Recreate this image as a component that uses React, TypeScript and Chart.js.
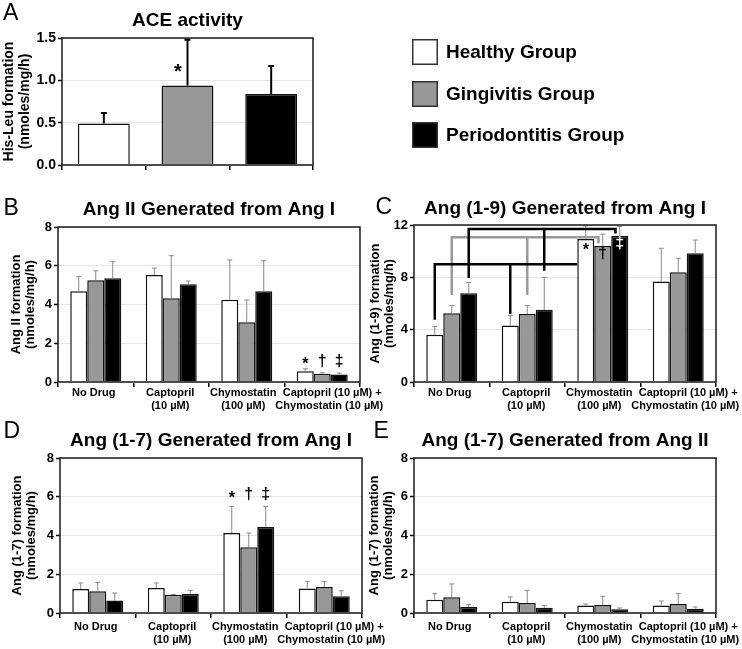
import { useEffect, useRef } from 'react';
import { Chart, registerables } from 'chart.js';

Chart.register(...registerables);

const FONT = '"Liberation Sans", Arial, Helvetica, sans-serif';

// ---------- shared ----------
const groupNames = ['Healthy Group', 'Gingivitis Group', 'Periodontitis Group'];
const groupFill = ['#ffffff', '#989898', '#000000'];
const bracketColor = ['#000000', '#9a9a9a', '#000000'];
const drugLabels = [
  ['No Drug'],
  ['Captopril', '(10 µM)'],
  ['Chymostatin', '(100 µM)'],
  ['Captopril (10 µM) +', 'Chymostatin (10 µM)'],
];

// ---------- A: ACE activity ----------
const aceLabels = ['', '', ''];
const aceMean = [0.49, 0.94, 0.84];
const aceSD = [0.125, 0.54, 0.33];
const aceTicks = [0, 0.5, 1.0, 1.5];
const aceMarks = [{ series: 0, cat: 1, value: 1.09, text: '*' }];

// ---------- B: Ang II generated from Ang I ----------
const angIIHealthy = [4.68, 5.52, 4.25, 0.55];
const angIIHealthySD = [0.77, 0.36, 2.05, 0.13];
const angIIGingivitis = [5.25, 4.32, 3.08, 0.43];
const angIIGingivitisSD = [0.49, 2.2, 1.15, 0.05];
const angIIPeriodontitis = [5.35, 5.04, 4.68, 0.39];
const angIIPeriodontitisSD = [0.86, 0.17, 1.58, 0.07];
const angIITicks = [0, 2, 4, 6, 8];
const angIIMarks = [
  { series: 0, cat: 3, value: 0.88, text: '*' },
  { series: 1, cat: 3, value: 1.05, text: '†' },
  { series: 2, cat: 3, value: 1.05, text: '‡' },
];

// ---------- C: Ang (1-9) generated from Ang I ----------
const ang19Healthy = [3.61, 4.32, 10.93, 7.68];
const ang19HealthySD = [0.63, 0.76, 1.0, 2.54];
const ang19Gingivitis = [5.26, 5.19, 10.4, 8.39];
const ang19GingivitisSD = [0.58, 0.65, 0.9, 1.07];
const ang19Periodontitis = [6.79, 5.52, 11.15, 9.84];
const ang19PeriodontitisSD = [0.81, 2.48, 0.73, 1.01];
const ang19Ticks = [0, 4, 8, 12];
const ang19Marks = [
  { series: 0, cat: 2, value: 10.05, text: '*' },
  { series: 1, cat: 2, value: 9.79, text: '†' },
  { series: 2, cat: 2, value: 10.59, text: '‡' },
];
// significance brackets: level, drop-ends at No Drug & Captopril, end at Chymostatin
const ang19Brackets = [
  { series: 1, level: 11.06, drops: [6.65, 6.65], end: 10.6 },
  { series: 0, level: 9.0, drops: [4.75, 5.2], end: null },
  { series: 2, level: 11.7, drops: [7.95, 8.5], end: 11.35 },
];

// ---------- D: Ang (1-7) generated from Ang I ----------
const ang17IHealthy = [1.24, 1.29, 4.13, 1.27];
const ang17IHealthySD = [0.31, 0.26, 1.37, 0.36];
const ang17IGingivitis = [1.12, 0.94, 3.4, 1.34];
const ang17IGingivitisSD = [0.46, 0.02, 0.73, 0.29];
const ang17IPeriodontitis = [0.65, 0.98, 4.44, 0.86];
const ang17IPeriodontitisSD = [0.38, 0.19, 1.06, 0.29];
const ang17ITicks = [0, 2, 4, 6, 8];
const ang17IMarks = [
  { series: 0, cat: 2, value: 5.92, text: '*' },
  { series: 1, cat: 2, value: 6.12, text: '†' },
  { series: 2, cat: 2, value: 6.12, text: '‡' },
];

// ---------- E: Ang (1-7) generated from Ang II ----------
const ang17IIHealthy = [0.69, 0.58, 0.39, 0.39];
const ang17IIHealthySD = [0.31, 0.25, 0.07, 0.23];
const ang17IIGingivitis = [0.81, 0.52, 0.41, 0.46];
const ang17IIGingivitisSD = [0.69, 0.65, 0.45, 0.54];
const ang17IIPeriodontitis = [0.31, 0.27, 0.19, 0.22];
const ang17IIPeriodontitisSD = [0.12, 0.11, 0.07, 0.09];
const ang17IITicks = [0, 2, 4, 6, 8];

type Mark = { series: number; cat: number; value: number; text: string };
type Bracket = { series: number; level: number; drops: number[]; end: number | null };

type PanelCfg = {
  letter: string;
  letterPos: [number, number];
  title: string;
  titleMid: number;
  yTitle: string[];
  yTitleCenter: number;
  yTitleSize: number;
  yTitleLH: number;
  tickSize: number;
  box: { x: number; y: number; w: number; h: number };
  area: { l: number; t: number; r: number; b: number };
  labels: any[];
  means: number[][];
  sds: number[][];
  fills: any[];
  ticks: number[];
  decimals: number;
  catPct: number;
  errColor: string;
  errWidth: number;
  errCap: number;
  marks: Mark[];
  markSize: number;
  markDx: number;
  brackets: Bracket[];
  xLabelTop: number;
  legend: boolean;
};

// horizontal nudges (px) of each category-label line (Excel-style placement)
const labelNudge = [[-2], [-1, -1], [-3.5, -3.5], [10, 7]];

const groupedBase = {
  labels: drugLabels,
  fills: groupFill,
  decimals: 0,
  catPct: 0.675,
  errColor: '#8a8a8a',
  errWidth: 1,
  errCap: 2.5,
  markSize: 16,
  markDx: 0,
  yTitleSize: 13,
  yTitleLH: 14,
  tickSize: 13,
  legend: false,
};

const panels: PanelCfg[] = [
  {
    letter: 'A',
    letterPos: [3, 19.5],
    title: 'ACE activity',
    titleMid: 21,
    yTitle: ['His-Leu formation', '(nmoles/mg/h)'],
    yTitleCenter: 9.5,
    yTitleSize: 14,
    yTitleLH: 16,
    tickSize: 14,
    box: { x: 0, y: 0, w: 742, h: 185 },
    area: { l: 62, t: 38, r: 313, b: 165 },
    labels: aceLabels,
    means: [aceMean],
    sds: [aceSD],
    fills: [groupFill],
    ticks: aceTicks,
    decimals: 1,
    catPct: 0.62,
    errColor: '#000000',
    errWidth: 2,
    errCap: 3,
    marks: aceMarks,
    markSize: 20,
    markDx: -9.5,
    brackets: [],
    xLabelTop: 10,
    legend: true,
  },
  {
    ...groupedBase,
    letter: 'B',
    letterPos: [3.5, 215],
    title: 'Ang II Generated from Ang I',
    titleMid: 210,
    yTitle: ['Ang II formation', '(nmoles/mg/h)'],
    yTitleCenter: 16.5,
    box: { x: 0, y: 185, w: 392, h: 230 },
    area: { l: 58, t: 227, r: 360, b: 382 },
    means: [angIIHealthy, angIIGingivitis, angIIPeriodontitis],
    sds: [angIIHealthySD, angIIGingivitisSD, angIIPeriodontitisSD],
    ticks: angIITicks,
    marks: angIIMarks,
    brackets: [],
    xLabelTop: 10.5,
  },
  {
    ...groupedBase,
    letter: 'C',
    letterPos: [375.5, 213.5],
    title: 'Ang (1-9) Generated from Ang I',
    titleMid: 209,
    yTitle: ['Ang (1-9) formation', '(nmoles/mg/h)'],
    yTitleCenter: 375,
    box: { x: 362, y: 185, w: 380, h: 230 },
    area: { l: 414, t: 225, r: 716, b: 382 },
    means: [ang19Healthy, ang19Gingivitis, ang19Periodontitis],
    sds: [ang19HealthySD, ang19GingivitisSD, ang19PeriodontitisSD],
    ticks: ang19Ticks,
    marks: ang19Marks,
    brackets: ang19Brackets,
    xLabelTop: 10.5,
  },
  {
    ...groupedBase,
    letter: 'D',
    letterPos: [3.5, 438],
    title: 'Ang (1-7) Generated from Ang I',
    titleMid: 441,
    yTitle: ['Ang (1-7) formation', '(nmoles/mg/h)'],
    yTitleCenter: 17.5,
    box: { x: 0, y: 415, w: 392, h: 234 },
    area: { l: 60, t: 458, r: 362, b: 613 },
    means: [ang17IHealthy, ang17IGingivitis, ang17IPeriodontitis],
    sds: [ang17IHealthySD, ang17IGingivitisSD, ang17IPeriodontitisSD],
    ticks: ang17ITicks,
    marks: ang17IMarks,
    brackets: [],
    xLabelTop: 14,
  },
  {
    ...groupedBase,
    letter: 'E',
    letterPos: [373.5, 438],
    title: 'Ang (1-7) Generated from Ang II',
    titleMid: 440.5,
    yTitle: ['Ang (1-7) formation', '(nmoles/mg/h)'],
    yTitleCenter: 374.5,
    box: { x: 362, y: 415, w: 380, h: 234 },
    area: { l: 414, t: 458, r: 716, b: 613 },
    means: [ang17IIHealthy, ang17IIGingivitis, ang17IIPeriodontitis],
    sds: [ang17IIHealthySD, ang17IIGingivitisSD, ang17IIPeriodontitisSD],
    ticks: ang17IITicks,
    marks: [],
    brackets: [],
    xLabelTop: 14,
  },
];

function makeExtras(cfg: PanelCfg) {
  return {
    id: 'panelExtras',
    afterDatasetsDraw(chart: any) {
      const ctx: CanvasRenderingContext2D = chart.ctx;
      const ys = chart.scales.y;
      const xs = chart.scales.x;
      const area = chart.chartArea;
      ctx.save();

      // error bars (upper)
      chart.data.datasets.forEach((ds: any, d: number) => {
        const bars = chart.getDatasetMeta(d).data;
        const sd = cfg.sds[d];
        bars.forEach((bar: any, i: number) => {
          const x = bar.x;
          const y0 = bar.y;
          const y1 = ys.getPixelForValue(ds.data[i] + sd[i]);
          ctx.strokeStyle = cfg.errColor;
          ctx.lineWidth = cfg.errWidth;
          ctx.beginPath();
          ctx.moveTo(x, y0);
          ctx.lineTo(x, y1);
          ctx.moveTo(x - cfg.errCap, y1);
          ctx.lineTo(x + cfg.errCap, y1);
          ctx.stroke();
        });
      });

      // plot frame
      ctx.strokeStyle = '#1a1a1a';
      ctx.lineWidth = 1.5;
      ctx.strokeRect(area.left, area.top, area.right - area.left, area.bottom - area.top);

      // significance brackets
      cfg.brackets.forEach((br) => {
        const bars = chart.getDatasetMeta(br.series).data;
        const yl = ys.getPixelForValue(br.level);
        const endBar = bars[2];
        const xe = br.end === null ? endBar.x - endBar.width / 2 : endBar.x - endBar.width / 4;
        ctx.strokeStyle = bracketColor[br.series];
        ctx.lineWidth = 2.5;
        ctx.lineJoin = 'miter';
        ctx.lineCap = 'butt';
        ctx.beginPath();
        ctx.moveTo(bars[0].x, ys.getPixelForValue(br.drops[0]));
        ctx.lineTo(bars[0].x, yl);
        ctx.lineTo(xe, yl);
        if (br.end !== null) ctx.lineTo(xe, ys.getPixelForValue(br.end));
        ctx.moveTo(bars[1].x, yl);
        ctx.lineTo(bars[1].x, ys.getPixelForValue(br.drops[1]));
        ctx.stroke();
      });

      // significance symbols
      ctx.font = `bold ${cfg.markSize}px ${FONT}`;
      ctx.textAlign = 'center';
      ctx.textBaseline = 'middle';
      cfg.marks.forEach((m) => {
        const bar = chart.getDatasetMeta(m.series).data[m.cat];
        const mean = cfg.means[m.series][m.cat];
        const fill = Array.isArray(cfg.fills[m.series]) ? cfg.fills[m.series][m.cat] : cfg.fills[m.series];
        ctx.fillStyle = m.value < mean && fill === '#000000' ? '#ffffff' : '#000000';
        ctx.fillText(m.text, bar.x + cfg.markDx, ys.getPixelForValue(m.value));
      });

      // category labels
      ctx.font = `bold 11px ${FONT}`;
      ctx.fillStyle = '#000';
      cfg.labels.forEach((lab: any, i: number) => {
        const lines: string[] = Array.isArray(lab) ? lab : [lab];
        const base = xs.getPixelForTick(i);
        lines.forEach((t, k) => {
          const nudge = cfg.labels.length === 4 ? labelNudge[i][k] : 0;
          if (t) ctx.fillText(t, base + nudge, area.bottom + cfg.xLabelTop + k * 13);
        });
      });

      // panel letter
      ctx.font = `23px ${FONT}`;
      ctx.textAlign = 'left';
      ctx.textBaseline = 'alphabetic';
      ctx.fillStyle = '#000';
      ctx.fillText(cfg.letter, cfg.letterPos[0] - cfg.box.x, cfg.letterPos[1] - cfg.box.y);

      // legend
      if (cfg.legend) {
        const boxTops = [39, 81, 122];
        groupNames.forEach((name, g) => {
          const top = boxTops[g];
          ctx.fillStyle = groupFill[g];
          ctx.fillRect(412, top, 26, 26);
          ctx.strokeStyle = '#333';
          ctx.lineWidth = 1.5;
          ctx.strokeRect(412.75, top + 0.75, 24.5, 24.5);
          ctx.fillStyle = '#000';
          ctx.font = `bold 19px ${FONT}`;
          ctx.textBaseline = 'middle';
          ctx.fillText(name, 446, top + 14);
        });
      }
      ctx.restore();
    },
  };
}

function buildConfig(cfg: PanelCfg): any {
  const { box, area } = cfg;
  const yW = area.l - box.x;
  const xH = box.y + box.h - area.b;
  const padRight = box.x + box.w - area.r;
  const tTop = cfg.titleMid - box.y - 11;
  const tBottom = area.t - box.y - tTop - 22;
  const yTitlePad = cfg.yTitleCenter - box.x - cfg.yTitleLH / 2;

  const datasets = cfg.means.map((vals, g) => ({
    label: cfg.legend ? 'ACE activity' : groupNames[g],
    data: vals,
    backgroundColor: cfg.fills[g],
    borderColor: '#111111',
    borderWidth: 1.5,
    categoryPercentage: cfg.catPct,
    barPercentage: 1,
  }));

  return {
    type: 'bar',
    data: { labels: cfg.labels, datasets },
    options: {
      animation: false,
      responsive: false,
      maintainAspectRatio: false,
      devicePixelRatio: 1,
      layout: { padding: { left: 0, top: 0, right: padRight, bottom: 0 } },
      plugins: {
        legend: { display: false },
        tooltip: { enabled: false },
        title: {
          display: true,
          text: cfg.title,
          fullSize: false,
          color: '#000',
          font: { family: FONT, size: 19, weight: 'bold', lineHeight: '22px' },
          padding: { top: tTop, bottom: tBottom },
        },
      },
      scales: {
        x: {
          type: 'category',
          offset: true,
          border: { display: false },
          grid: {
            offset: true,
            drawOnChartArea: false,
            drawTicks: true,
            tickLength: 5,
            tickColor: '#000',
            color: '#000',
            lineWidth: 1.5,
          },
          ticks: { display: false },
          afterFit: (s: any) => {
            s.height = xH;
            s.paddingLeft = 0;
            s.paddingRight = 0;
          },
        },
        y: {
          min: cfg.ticks[0],
          max: cfg.ticks[cfg.ticks.length - 1],
          border: { display: false },
          afterBuildTicks: (s: any) => {
            s.ticks = cfg.ticks.map((v) => ({ value: v }));
          },
          grid: {
            color: '#e4e4e4',
            lineWidth: 1,
            tickColor: '#000',
            tickLength: 4,
            tickWidth: 1.5,
          },
          ticks: {
            padding: 2,
            color: '#000',
            font: { family: FONT, size: cfg.tickSize, weight: 'bold' },
            callback: (v: number) => Number(v).toFixed(cfg.decimals),
          },
          title: {
            display: true,
            text: cfg.yTitle,
            color: '#000',
            font: { family: FONT, size: cfg.yTitleSize, weight: 'bold', lineHeight: `${cfg.yTitleLH}px` },
            padding: { top: yTitlePad, bottom: 0 },
          },
          afterFit: (s: any) => {
            s.width = yW;
            s.paddingTop = 0;
            s.paddingBottom = 0;
          },
        },
      },
    },
    plugins: [makeExtras(cfg)],
  };
}

function ChartPanel({ cfg }: { cfg: PanelCfg }) {
  const ref = useRef<HTMLCanvasElement>(null);
  useEffect(() => {
    const chart = new Chart(ref.current as HTMLCanvasElement, buildConfig(cfg));
    return () => chart.destroy();
  }, [cfg]);
  return (
    <canvas
      ref={ref}
      width={cfg.box.w}
      height={cfg.box.h}
      style={{
        position: 'absolute',
        left: cfg.box.x,
        top: cfg.box.y,
        width: cfg.box.w,
        height: cfg.box.h,
      }}
    />
  );
}

export default function App() {
  return (
    <div style={{ position: 'absolute', left: 0, top: 0, width: 742, height: 649, background: '#ffffff', overflow: 'hidden' }}>
      {panels.map((p) => (
        <ChartPanel key={p.letter} cfg={p} />
      ))}
    </div>
  );
}
